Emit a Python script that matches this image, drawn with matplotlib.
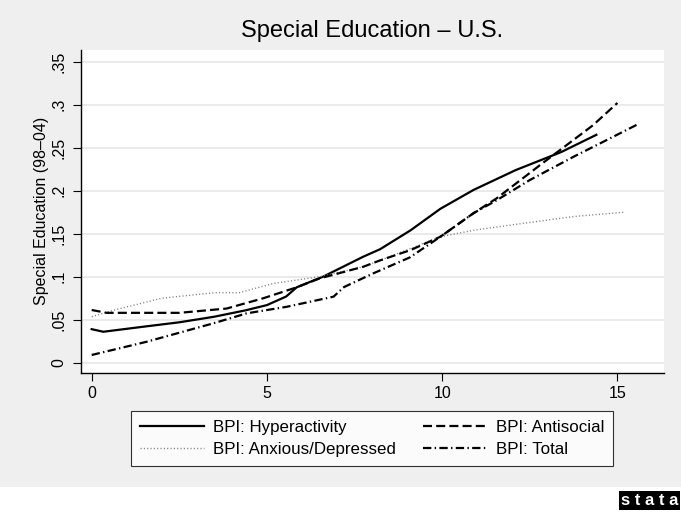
import matplotlib
matplotlib.use("Agg")
import matplotlib.pyplot as plt
from matplotlib.patches import Rectangle

plt.rcParams['font.family'] = ['Liberation Sans', 'DejaVu Sans']
plt.rcParams['lines.scale_dashes'] = False

# curvas suavizadas por grupo BPI
hyper_x = [0, 0.33, 1.5, 2.5, 3.5, 4.4, 5.0, 5.55, 5.85, 6.6, 7.75, 8.23, 9.1, 9.95, 10.9, 12.1, 13.4, 14.4]
hyper_y = [.039, .036, .042, .047, .0535, .061, .067, .077, .0877, .100, .1233, .132, .154, .179, .201, .224, .245, .265]

anti_x = [0, 0.43, 1.5, 2.5, 3.85, 4.9, 5.85, 6.5, 7.75, 8.23, 9.1, 9.95, 10.9, 11.55, 12.8, 13.55, 14.3, 15.0]
anti_y = [.0613, .058, .058, .058, .063, .075, .0877, .098, .1116, .119, .131, .1465, .174, .191, .230, .253, .276, .302]

anx_x = [0, 0.62, 2.0, 3.5, 4.2, 5.2, 6.5, 7.75, 8.23, 9.95, 10.9, 12.3, 13.75, 15.2]
anx_y = [.0535, .061, .075, .0814, .0814, .0923, .100, .1116, .119, .1465, .154, .162, .170, .175]

total_x = [0, 1.57, 3.47, 4.42, 5.56, 6.9, 7.2, 8.04, 9.08, 9.95, 10.9, 11.56, 12.5, 13.75, 14.7, 15.6]
total_y = [.009, .0244, .0458, .0574, .065, .0768, .088, .104, .1225, .1465, .174, .189, .2124, .2395, .259, .2776]

xticks = [0, 5, 10, 15]
yticks = [0, .05, .1, .15, .2, .25, .3, .35]
ytick_labels = ['0', '.05', '.1', '.15', '.2', '.25', '.3', '.35']

W, H = 681, 513
fig = plt.figure(figsize=(W / 100, H / 100), dpi=100, facecolor='white')
# fondo gris del grafico, franja blanca abajo para el logo
fig.patches.append(Rectangle((0, (H - 487) / H), 1, 487 / H, transform=fig.transFigure,
                             facecolor='#efefef', edgecolor='none', zorder=-10))

ax = fig.add_axes([81 / W, (H - 372.7) / H, (664 - 81) / W, (372.7 - 50) / H])
ax.set_zorder(1)
ax.set_facecolor('white')
ax.set_xlim(-0.305, 16.33)
ax.set_ylim(-0.0116, 0.3636)

ax.plot(hyper_x, hyper_y, color='black', lw=1.6, label='BPI: Hyperactivity')
ax.plot(anx_x, anx_y, color='#808080', lw=1.0, dashes=(0.8, 1.6), label='BPI: Anxious/Depressed')
ax.plot(anti_x, anti_y, color='black', lw=1.6, dashes=(6.5, 3.0), label='BPI: Antisocial')
ax.plot(total_x, total_y, color='black', lw=1.6, dashes=(6.0, 2.4, 1.0, 2.4), label='BPI: Total')

ax.set_yticks(yticks)
ax.set_yticklabels(ytick_labels, rotation=90, va='center')
ax.set_xticks(xticks)
ax.tick_params(axis='both', labelsize=11.5, length=5.5, width=0.8, color='black', pad=4)
ax.tick_params(axis='y', pad=5)
ax.grid(axis='y', color='#e8e8e8', lw=1.3)
ax.set_axisbelow(True)
for s in ['top', 'right']:
    ax.spines[s].set_visible(False)
for s in ['left', 'bottom']:
    ax.spines[s].set_linewidth(1.0)

ax.set_ylabel('Special Education (98\u201304)', fontsize=11.5, labelpad=2)
ax.set_title('Special Education \u2013 U.S.', fontsize=17, pad=9)

h, l = ax.get_legend_handles_labels()
leg = fig.legend(h, l, loc='center', bbox_to_anchor=(372 / W, (H - 438.5) / H), ncol=2,
                 fontsize=12.2, frameon=True, fancybox=False, edgecolor='black',
                 handlelength=3.8, handletextpad=0.5, columnspacing=1.6,
                 labelspacing=0.4, borderpad=0.55, borderaxespad=0)
leg.get_frame().set_linewidth(0.8)
leg.set_zorder(2)

fig.text(678 / W, (H - 508) / H, 's t a t a', ha='right', va='bottom', color='white',
         fontsize=12, fontweight='bold',
         bbox=dict(facecolor='black', edgecolor='none', pad=1.5))

fig.savefig('out.png', dpi=100, facecolor=fig.get_facecolor())
